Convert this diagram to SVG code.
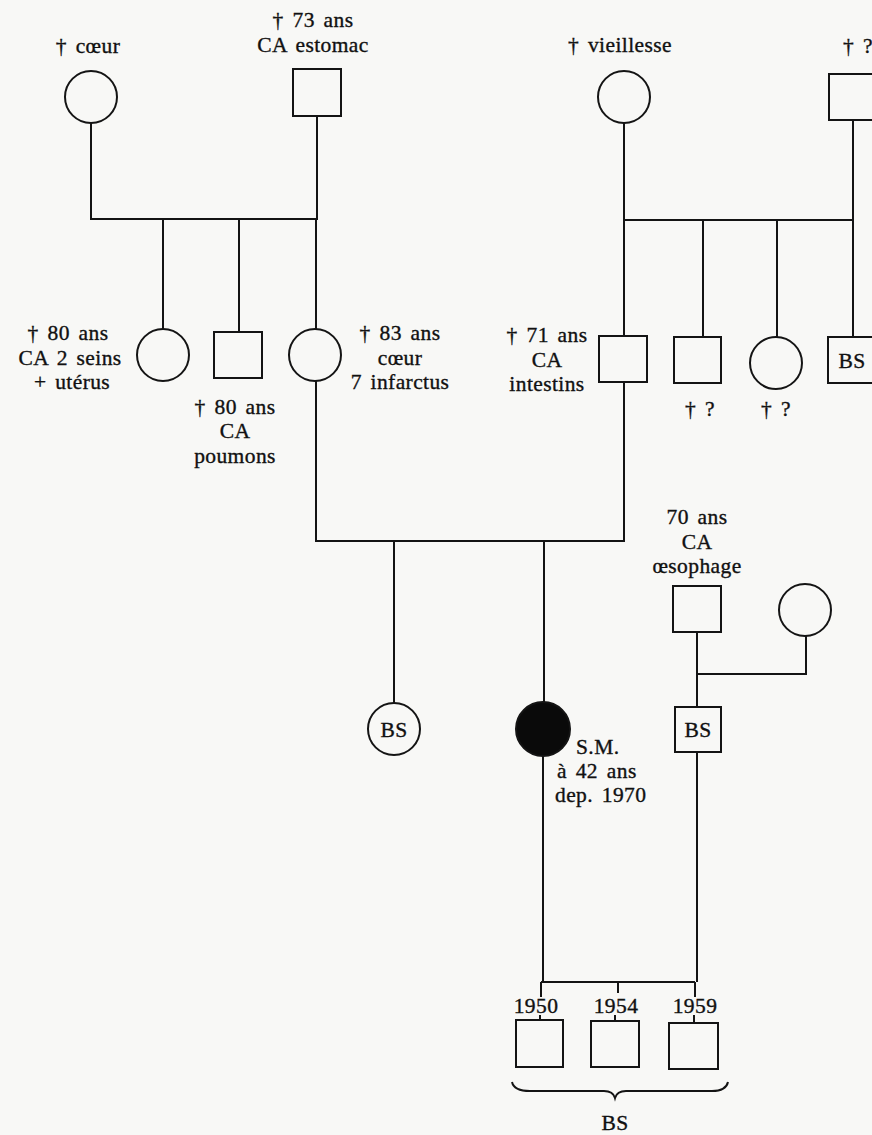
<svg xmlns="http://www.w3.org/2000/svg" width="872" height="1135" viewBox="0 0 872 1135">
<style>
.bg{fill:#f8f8f6}
.s{fill:none;stroke:#141414;stroke-width:2}
.n{fill:#f8f8f6;stroke:#141414;stroke-width:2}
.f{fill:#0a0a0a;stroke:#141414;stroke-width:2}
text{font-family:"Liberation Serif","Times New Roman",serif;font-size:21.5px;fill:#111;stroke:#111;stroke-width:0.35px;word-spacing:3px;letter-spacing:0.4px}
.c{text-anchor:middle}
</style>
<rect class="bg" x="0" y="0" width="872" height="1135"/>
<g id="connectors">
<path class="s" d="M91 123V219H317V116M163 219V329M239 219V332M316 219V329"/>
<path class="s" d="M624 123V220H853V120M624 220V336M703 220V337M777 220V337M853 220V337"/>
<path class="s" d="M316 381V541H624V382M394 541V703M544 541V702"/>
<path class="s" d="M697 632V707M697 674H806V636"/>
<path class="s" d="M543 756V982M697 752V982M541 982H695M618 982V993M541 982V997M695 982V997M540 1015V1020M615 1015V1021M694 1015V1023"/>
<path class="s" d="M512 1082Q514 1091 530 1091H604Q613 1091 615 1098Q617 1091 626 1091H712Q726 1091 728 1082"/>
</g>
<g id="n1"><circle class="n" cx="91" cy="97" r="26"/><text class="c" x="88" y="53">† cœur</text></g>
<g id="n2"><rect class="n" x="293" y="69" width="48" height="47"/><text class="c" x="313" y="27">† 73 ans</text><text class="c" x="313" y="52">CA estomac</text></g>
<g id="n3"><circle class="n" cx="624" cy="97" r="26"/><text class="c" x="620" y="52">† vieillesse</text></g>
<g id="n4"><rect class="n" x="829" y="74" width="48" height="46"/><text class="c" x="858" y="53">† ?</text></g>
<g id="n5"><circle class="n" cx="163" cy="355" r="26"/><text class="c" x="68" y="340">† 80 ans</text><text class="c" x="70" y="365">CA 2 seins</text><text class="c" x="72" y="389">+  utérus</text></g>
<g id="n6"><rect class="n" x="214" y="332" width="48" height="46"/><text class="c" x="235" y="414">† 80 ans</text><text class="c" x="235" y="438">CA</text><text class="c" x="235" y="463">poumons</text></g>
<g id="n7"><circle class="n" cx="315" cy="355" r="26"/><text class="c" x="400" y="340">† 83 ans</text><text class="c" x="400" y="365">cœur</text><text class="c" x="400" y="389">7 infarctus</text></g>
<g id="n8"><rect class="n" x="599" y="336" width="48" height="46"/><text class="c" x="547" y="342">† 71 ans</text><text class="c" x="547" y="367">CA</text><text class="c" x="547" y="391">intestins</text></g>
<g id="n9"><rect class="n" x="674" y="337" width="47" height="46"/><text class="c" x="700" y="416">† ?</text></g>
<g id="n10"><circle class="n" cx="776" cy="363" r="26"/><text class="c" x="776" y="416">† ?</text></g>
<g id="n11"><rect class="n" x="828" y="337" width="48" height="46"/><text class="c" x="852" y="368">BS</text></g>
<g id="n12"><circle class="n" cx="394" cy="729" r="26"/><text class="c" x="394" y="737">BS</text></g>
<g id="n13"><circle class="f" cx="543" cy="729" r="27"/><text x="576" y="754">S.M.</text><text x="557" y="778">à 42 ans</text><text x="555" y="802">dep. 1970</text></g>
<g id="n14"><rect class="n" x="673" y="586" width="48" height="46"/><text class="c" x="697" y="524">70 ans</text><text class="c" x="697" y="549">CA</text><text class="c" x="697" y="573">œsophage</text></g>
<g id="n15"><circle class="n" cx="805" cy="610" r="26"/></g>
<g id="n16"><rect class="n" x="675" y="707" width="46" height="45"/><text class="c" x="698" y="737">BS</text></g>
<g id="n17"><rect class="n" x="516" y="1020" width="47" height="47"/><text class="c" x="536" y="1013">1950</text></g>
<g id="n18"><rect class="n" x="591" y="1021" width="48" height="46"/><text class="c" x="616" y="1013">1954</text></g>
<g id="n19"><rect class="n" x="669" y="1023" width="49" height="46"/><text class="c" x="695" y="1013">1959</text></g>
<g id="lbl"><text class="c" x="615" y="1130">BS</text></g>
</svg>
